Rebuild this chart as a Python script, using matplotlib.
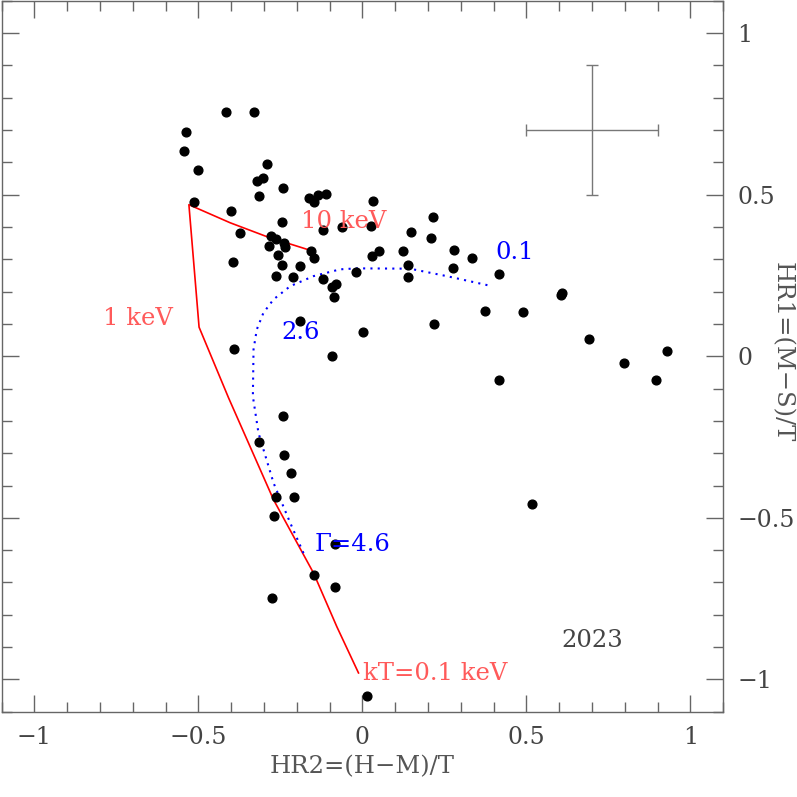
import matplotlib
matplotlib.use("Agg")
import matplotlib.pyplot as plt
from matplotlib.ticker import MultipleLocator

# sources: HR2=(H-M)/T, HR1=(M-S)/T
hr2 = [-0.416, -0.330, -0.538, -0.543, -0.501, -0.290, -0.303, -0.322, -0.241, -0.316,
       -0.513, -0.162, -0.149, -0.134, -0.112, -0.400, -0.244, -0.121, -0.063, -0.372,
       -0.279, -0.263, -0.238, -0.236, -0.286, -0.158, -0.147, -0.256, -0.395, -0.246,
       -0.191, -0.263, -0.212, -0.121, -0.092, -0.080, -0.019, 0.033, 0.026, 0.216,
       0.147, 0.208, -0.088, 0.030, 0.052, 0.123, 0.138, 0.140, 0.278, 0.334,
       0.277, 0.417, 0.374, 0.218, -0.190, 0.003, -0.093, 0.417, -0.393, 0.609,
       0.606, 0.489, 0.692, 0.797, 0.929, 0.895, -0.242, -0.315, -0.239, -0.218,
       -0.265, -0.208, -0.270, -0.085, -0.148, -0.084, -0.277, 0.014, 0.517]
hr1 = [0.756, 0.756, 0.694, 0.635, 0.575, 0.594, 0.553, 0.541, 0.520, 0.497,
       0.476, 0.490, 0.476, 0.499, 0.503, 0.451, 0.415, 0.391, 0.399, 0.380,
       0.373, 0.364, 0.352, 0.338, 0.341, 0.325, 0.304, 0.314, 0.293, 0.281,
       0.280, 0.249, 0.245, 0.240, 0.215, 0.224, 0.260, 0.479, 0.404, 0.431,
       0.383, 0.365, 0.182, 0.311, 0.325, 0.325, 0.281, 0.244, 0.329, 0.305,
       0.274, 0.256, 0.139, 0.099, 0.110, 0.074, 0.002, -0.072, 0.021, 0.197,
       0.190, 0.136, 0.052, -0.020, 0.016, -0.072, -0.184, -0.265, -0.306, -0.361,
       -0.435, -0.434, -0.494, -0.582, -0.678, -0.715, -0.748, -1.050, -0.457]

# thermal model track (kT = 0.1 ... 10 keV)
kt_hr2 = [-0.012, -0.078, -0.149, -0.271, -0.408, -0.498, -0.529, -0.403, -0.291, -0.169]
kt_hr1 = [-0.980, -0.837, -0.671, -0.444, -0.129, 0.090, 0.469, 0.413, 0.370, 0.331]

# power law track (Gamma = 0.1 ... 4.6)
pl_hr2 = [0.381, 0.257, 0.145, -0.017, -0.068, -0.149, -0.220, -0.271, -0.302, -0.322,
          -0.332, -0.334, -0.317, -0.271, -0.220, -0.175]
pl_hr1 = [0.220, 0.248, 0.271, 0.272, 0.269, 0.248, 0.217, 0.176, 0.134, 0.083,
          0.021, -0.124, -0.237, -0.392, -0.516, -0.620]

# typical error bar
err_x, err_y, err_dx, err_dy = 0.7, 0.7, 0.2, 0.2

major_ticks = [-1, -0.5, 0, 0.5, 1]
tick_labels = ["\u22121", "\u22120.5", "0", "0.5", "1"]

plt.rcParams['font.family'] = ['DejaVu Serif']
fig = plt.figure(figsize=(7.97, 7.97), dpi=100)
ax = fig.add_axes([0.002, 0.107, 0.9055, 0.892])

ax.plot(kt_hr2, kt_hr1, color='#ff0000', lw=1.2, zorder=2)
ax.plot(pl_hr2, pl_hr1, color='#0000ff', lw=1.5, linestyle=(0, (1, 2.5)), zorder=2)
ax.plot(hr2, hr1, 'o', color='black', ms=6.3, zorder=3)
ax.errorbar([err_x], [err_y], xerr=[err_dx], yerr=[err_dy], fmt='none',
            ecolor='#777777', elinewidth=1, capsize=4, capthick=1)

red_txt = '#ff5a5a'
fs = 17.5
ax.text(-0.790, 0.098, "1 keV", color=red_txt, fontsize=fs)
ax.text(-0.186, 0.398, "10 keV", color=red_txt, fontsize=fs)
ax.text(0.003, -1.002, "kT=0.1 keV", color=red_txt, fontsize=fs)
ax.text(0.406, 0.300, "0.1", color='#0000ff', fontsize=fs)
ax.text(-0.246, 0.052, "2.6", color='#0000ff', fontsize=fs)
ax.text(-0.146, -0.602, "\u0393=4.6", color='#0000ff', fontsize=fs)
ax.text(0.605, -0.901, "2023", color='#444444', fontsize=fs)

ax.set_xlim(-1.1, 1.1)
ax.set_ylim(-1.1, 1.1)
ax.set_xticks(major_ticks)
ax.set_xticklabels(tick_labels)
ax.set_yticks(major_ticks)
ax.set_yticklabels(tick_labels)
ax.xaxis.set_minor_locator(MultipleLocator(0.1))
ax.yaxis.set_minor_locator(MultipleLocator(0.1))
ax.tick_params(which='both', direction='in', top=True, bottom=True, left=True, right=True,
               labelleft=False, labelright=True, color='#666666', width=1,
               labelsize=17, labelcolor='#444444')
ax.tick_params(which='major', length=12.5, pad=10)
ax.tick_params(which='minor', length=7)
for s in ax.spines.values():
    s.set_color('#666666')
    s.set_linewidth(1)

ax.set_xlabel("HR2=(H\u2212M)/T", fontsize=17.5, color='#555555', labelpad=5)
fig.text(782 / 797, 1 - 352 / 797, "HR1=(M\u2212S)/T", fontsize=17.5, color='#555555',
         rotation=-90, ha='center', va='center')

fig.savefig("out.png", dpi=100)
